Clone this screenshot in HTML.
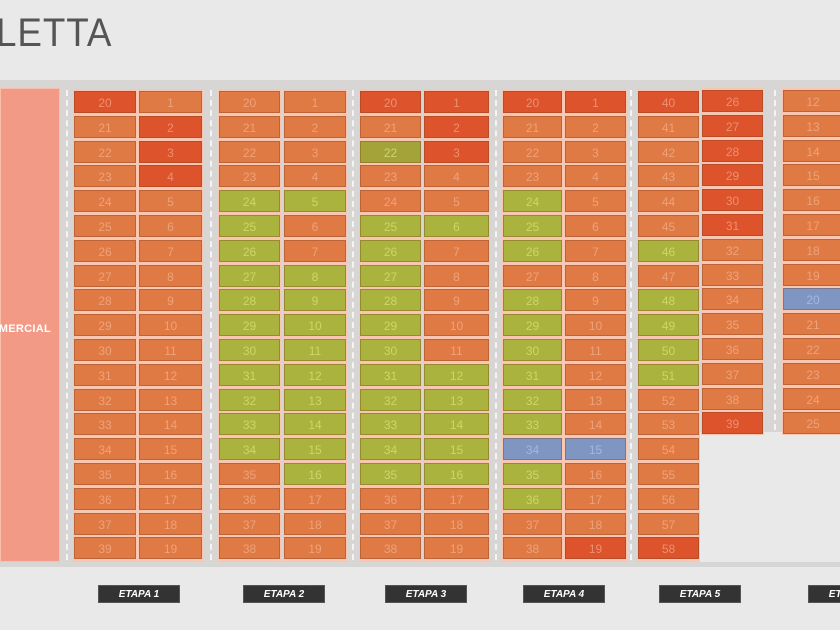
<!DOCTYPE html>
<html><head><meta charset="utf-8"><style>
*{margin:0;padding:0;box-sizing:border-box}
body{width:840px;height:630px;background:#e9e9e9;position:relative;overflow:hidden;font-family:"Liberation Sans",sans-serif}
.title{position:absolute;left:-4px;top:11px;font-size:40px;color:#555;letter-spacing:1px;font-weight:normal;transform:scaleX(0.92);transform-origin:left}
.site{position:absolute;left:0;top:80px;width:840px;height:487px;background:#d8d6d4}
.blank{position:absolute;left:766px;top:432px;width:74px;height:130px;background:#e9e9e9}
.blank2{position:absolute;left:700px;top:432px;width:66px;height:130px;background:#e9e9e9}
.road{position:absolute;top:90px;width:0;height:470px;border-left:2px dashed #f4f4f4}
.com{position:absolute;left:0;top:88px;width:60px;height:474px;background:#f29a85;border:1px solid #f6c0ad}
.com span{position:absolute;right:8px;top:234px;color:#fff;font-size:11px;font-weight:bold;letter-spacing:.3px}
.col{position:absolute;top:89px;background:#f8c6b1;padding:2px 1px 0}
.col i{display:block;height:22px;margin-bottom:2.8px;font-style:normal;text-align:center;line-height:22px;font-size:12px;border:1px solid rgba(120,60,30,.35)}
.o{background:#e07a45;color:#eda27a}
.r{background:#dc532c;color:#ec9070}
.g{background:#a9b33d;color:#cdd66a}
.b{background:#7f95c2;color:#a3b8e0}
.lbl{position:absolute;top:585px;width:82px;height:18px;background:#333;color:#fff;font-size:10px;font-weight:bold;font-style:italic;text-align:center;line-height:18px;border:1px solid #555}
</style></head><body>
<div class="title">LETTA</div>
<div class="site"></div>
<div class="blank2"></div><div class="blank"></div>
<div class="road" style="left:66px"></div>
<div class="road" style="left:210px"></div>
<div class="road" style="left:352px"></div>
<div class="road" style="left:495px"></div>
<div class="road" style="left:630px"></div>
<div class="road" style="left:774px;height:340px"></div>
<div class="com"><span>MERCIAL</span></div>

<div class="col" style="left:73px;width:64px"><i class="r">20</i><i class="o">21</i><i class="o">22</i><i class="o">23</i><i class="o">24</i><i class="o">25</i><i class="o">26</i><i class="o">27</i><i class="o">28</i><i class="o">29</i><i class="o">30</i><i class="o">31</i><i class="o">32</i><i class="o">33</i><i class="o">34</i><i class="o">35</i><i class="o">36</i><i class="o">37</i><i class="o">39</i></div>
<div class="col" style="left:138px;width:65px"><i class="o">1</i><i class="r">2</i><i class="r">3</i><i class="r">4</i><i class="o">5</i><i class="o">6</i><i class="o">7</i><i class="o">8</i><i class="o">9</i><i class="o">10</i><i class="o">11</i><i class="o">12</i><i class="o">13</i><i class="o">14</i><i class="o">15</i><i class="o">16</i><i class="o">17</i><i class="o">18</i><i class="o">19</i></div>

<div class="col" style="left:218px;width:63px"><i class="o">20</i><i class="o">21</i><i class="o">22</i><i class="o">23</i><i class="g">24</i><i class="g">25</i><i class="g">26</i><i class="g">27</i><i class="g">28</i><i class="g">29</i><i class="g">30</i><i class="g">31</i><i class="g">32</i><i class="g">33</i><i class="g">34</i><i class="o">35</i><i class="o">36</i><i class="o">37</i><i class="o">38</i></div>
<div class="col" style="left:283px;width:64px"><i class="o">1</i><i class="o">2</i><i class="o">3</i><i class="o">4</i><i class="g">5</i><i class="o">6</i><i class="o">7</i><i class="g">8</i><i class="g">9</i><i class="g">10</i><i class="g">11</i><i class="g">12</i><i class="g">13</i><i class="g">14</i><i class="g">15</i><i class="g">16</i><i class="o">17</i><i class="o">18</i><i class="o">19</i></div>

<div class="col" style="left:359px;width:63px"><i class="r">20</i><i class="o">21</i><i class="g" style="background:#a3a33a">22</i><i class="o">23</i><i class="o">24</i><i class="g">25</i><i class="g">26</i><i class="g">27</i><i class="g">28</i><i class="g">29</i><i class="g">30</i><i class="g">31</i><i class="g">32</i><i class="g">33</i><i class="g">34</i><i class="g">35</i><i class="o">36</i><i class="o">37</i><i class="o">38</i></div>
<div class="col" style="left:423px;width:67px"><i class="r">1</i><i class="r">2</i><i class="r">3</i><i class="o">4</i><i class="o">5</i><i class="g">6</i><i class="o">7</i><i class="o">8</i><i class="o">9</i><i class="o">10</i><i class="o">11</i><i class="g">12</i><i class="g">13</i><i class="g">14</i><i class="g">15</i><i class="g">16</i><i class="o">17</i><i class="o">18</i><i class="o">19</i></div>

<div class="col" style="left:502px;width:61px"><i class="r">20</i><i class="o">21</i><i class="o">22</i><i class="o">23</i><i class="g">24</i><i class="g">25</i><i class="g">26</i><i class="o">27</i><i class="g">28</i><i class="g">29</i><i class="g">30</i><i class="g">31</i><i class="g">32</i><i class="g">33</i><i class="b">34</i><i class="g">35</i><i class="g">36</i><i class="o">37</i><i class="o">38</i></div>
<div class="col" style="left:564px;width:63px"><i class="r">1</i><i class="o">2</i><i class="o">3</i><i class="o">4</i><i class="o">5</i><i class="o">6</i><i class="o">7</i><i class="o">8</i><i class="o">9</i><i class="o">10</i><i class="o">11</i><i class="o">12</i><i class="o">13</i><i class="o">14</i><i class="b">15</i><i class="o">16</i><i class="o">17</i><i class="o">18</i><i class="r">19</i></div>

<div class="col" style="left:637px;width:63px"><i class="r">40</i><i class="o">41</i><i class="o">42</i><i class="o">43</i><i class="o">44</i><i class="o">45</i><i class="g">46</i><i class="o">47</i><i class="g">48</i><i class="g">49</i><i class="g">50</i><i class="g">51</i><i class="o">52</i><i class="o">53</i><i class="o">54</i><i class="o">55</i><i class="o">56</i><i class="o">57</i><i class="r">58</i></div>
<div class="col" style="left:701px;width:63px;top:88px"><i class="r">26</i><i class="r">27</i><i class="r">28</i><i class="r">29</i><i class="r">30</i><i class="r">31</i><i class="o">32</i><i class="o">33</i><i class="o">34</i><i class="o">35</i><i class="o">36</i><i class="o">37</i><i class="o">38</i><i class="r" style="margin-bottom:1px">39</i></div>

<div class="col" style="left:782px;width:62px;top:88px"><i class="o">12</i><i class="o">13</i><i class="o">14</i><i class="o">15</i><i class="o">16</i><i class="o">17</i><i class="o">18</i><i class="o">19</i><i class="b">20</i><i class="o">21</i><i class="o">22</i><i class="o">23</i><i class="o">24</i><i class="o" style="margin-bottom:1px">25</i></div>

<div class="lbl" style="left:98px">ETAPA 1</div>
<div class="lbl" style="left:243px">ETAPA 2</div>
<div class="lbl" style="left:385px">ETAPA 3</div>
<div class="lbl" style="left:523px">ETAPA 4</div>
<div class="lbl" style="left:659px">ETAPA 5</div>
<div class="lbl" style="left:808px">ETAPA 6</div>
</body></html>
